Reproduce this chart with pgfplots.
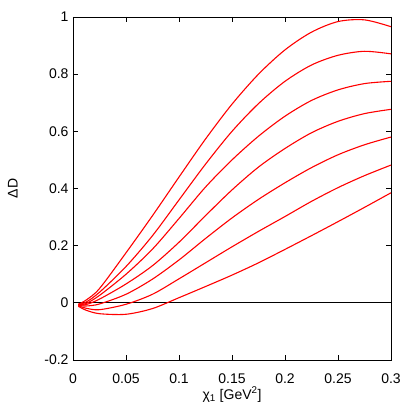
\documentclass[border=0pt]{standalone}
\usepackage{pgfplots}
\pgfplotsset{compat=1.18}
\usepackage{fontspec}
\setmainfont{Liberation Sans}

\pgfplotsset{rc/.style={color=red, solid, line width=1.1pt, smooth, mark=none}}

\begin{document}
\begin{tikzpicture}
\useasboundingbox (-73pt,-44pt) rectangle (342pt,360pt);
\begin{axis}[
    at={(0,0)}, anchor=south west,
    scale only axis,
    width=318pt, height=343pt,
    xmin=0, xmax=0.3, ymin=-0.2, ymax=1,
    font=\fontsize{14}{16}\selectfont,
    xtick={0,0.05,0.1,0.15,0.2,0.25,0.3},
    xticklabels={0,0.05,0.1,0.15,0.2,0.25,0.3},
    ytick={-0.2,0,0.2,0.4,0.6,0.8,1},
    yticklabels={-0.2,0,0.2,0.4,0.6,0.8,1},
    tick align=inside,
    major tick length=5pt,
    axis line style={line width=0.8pt},
    tick style={black, line width=0.8pt},
    xticklabel style={yshift=-10pt},
    yticklabel style={xshift=-1pt},
    xlabel={χ\textsubscript{1} [GeV\textsuperscript{2}]},
    ylabel={ΔD},
    xlabel style={at={(axis description cs:0.5,-0.101)}, anchor=center},
    ylabel style={at={(axis description cs:-0.189,0.5)}, anchor=center},
]
% zero line
\addplot[black, line width=0.8pt, mark=none] coordinates {(0,0) (0.3,0)};

% curve 1 (top)
\addplot[rc] coordinates {
(0.005,-0.005) (0.0125,0.01) (0.025,0.05) (0.05,0.175)
(0.075,0.305) (0.1,0.44) (0.125,0.573) (0.15,0.695)
(0.175,0.8) (0.2,0.885) (0.225,0.947) (0.25,0.984)
(0.275,0.99) (0.3,0.966)
};
% curve 2
\addplot[rc] coordinates {
(0.005,-0.006) (0.0125,0.003) (0.025,0.037) (0.05,0.127)
(0.075,0.235) (0.1,0.36) (0.125,0.485) (0.15,0.6)
(0.175,0.697) (0.2,0.775) (0.225,0.832) (0.25,0.866) (0.275,0.88)
(0.3,0.871)
};
% curve 3
\addplot[rc] coordinates {
(0.005,-0.007) (0.0125,-0.002) (0.025,0.026) (0.05,0.1)
(0.075,0.188) (0.1,0.295) (0.125,0.405) (0.15,0.5)
(0.175,0.583) (0.2,0.653) (0.225,0.708) (0.25,0.745) (0.275,0.767)
(0.3,0.775)
};
% curve 4
\addplot[rc] coordinates {
(0.005,-0.008) (0.0125,-0.006) (0.025,0.013) (0.05,0.066)
(0.075,0.13) (0.1,0.212) (0.125,0.305) (0.15,0.395)
(0.175,0.475) (0.2,0.54) (0.225,0.595) (0.25,0.635) (0.275,0.662)
(0.3,0.677)
};
% curve 5
\addplot[rc] coordinates {
(0.005,-0.009) (0.0125,-0.011) (0.025,-0.004) (0.05,0.03)
(0.075,0.083) (0.1,0.15) (0.125,0.225) (0.15,0.297)
(0.175,0.362) (0.2,0.42) (0.225,0.473) (0.25,0.518) (0.275,0.553)
(0.3,0.58)
};
% curve 6
\addplot[rc] coordinates {
(0.005,-0.01) (0.0125,-0.019) (0.025,-0.024) (0.05,-0.005)
(0.075,0.03) (0.1,0.084) (0.125,0.14) (0.15,0.196)
(0.175,0.25) (0.2,0.302) (0.225,0.355) (0.25,0.403) (0.275,0.445)
(0.3,0.482)
};
% curve 7 (bottom)
\addplot[rc] coordinates {
(0.005,-0.012) (0.0125,-0.026) (0.025,-0.038) (0.05,-0.04)
(0.075,-0.02) (0.1,0.018) (0.125,0.057)
(0.15,0.097) (0.175,0.14) (0.2,0.187) (0.225,0.235) (0.25,0.284)
(0.275,0.334) (0.3,0.385)
};
\end{axis}
\end{tikzpicture}
\end{document}
